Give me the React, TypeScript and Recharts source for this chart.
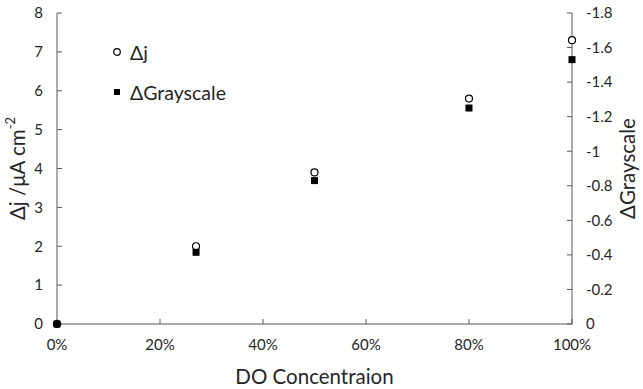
import React from "react";
import {
  ScatterChart,
  Scatter,
  XAxis,
  YAxis,
} from "recharts";

// DO concentration (fraction) for each measurement
const concentration = [0, 0.27, 0.5, 0.8, 1.0];
// current change, µA cm^-2
const deltaJ = [0, 2.0, 3.9, 5.8, 7.3];
// grayscale change (negative, plotted on reversed right axis)
const deltaGray = [0, -0.415, -0.83, -1.25, -1.53];

const xTicks = [0, 0.2, 0.4, 0.6, 0.8, 1.0];
const leftTicks = [0, 1, 2, 3, 4, 5, 6, 7, 8];
const rightTicks = [0, -0.2, -0.4, -0.6, -0.8, -1, -1.2, -1.4, -1.6, -1.8];

const jData = concentration.map((x, i) => ({ x, y: deltaJ[i] }));
const grayData = concentration.map((x, i) => ({ x, y: deltaGray[i] }));

const FONT = "Lato, 'Open Sans', sans-serif";
const AXIS = "#595959";
const TEXT = "#262626";
const TITLE_SIZE = 20.5;

const Square = (props: any) => {
  const { cx, cy } = props;
  return <rect x={cx - 3.5} y={cy - 3.5} width={7} height={7} fill="#000" />;
};

const Circle = (props: any) => {
  const { cx, cy } = props;
  return <circle cx={cx} cy={cy} r={3.5} fill="#fff" stroke="#000" strokeWidth={1.2} />;
};

// legend drawn as an overlay so it doesn't eat into the plot area
const LegendBox = () => (
  <div
    style={{
      position: "absolute",
      left: 112,
      top: 32,
      fontFamily: FONT,
      fontSize: 19.5,
      color: TEXT,
    }}
  >
    <div style={{ display: "flex", alignItems: "center", height: 40 }}>
      <svg width={12} height={12} style={{ marginRight: 6 }}>
        <circle cx={5} cy={6} r={3.3} fill="#fff" stroke="#000" strokeWidth={1.2} />
      </svg>
      Δj
    </div>
    <div style={{ display: "flex", alignItems: "center", height: 40 }}>
      <svg width={12} height={12} style={{ marginRight: 6 }}>
        <rect x={2} y={3} width={6} height={6} fill="#000" />
      </svg>
      ΔGrayscale
    </div>
  </div>
);

const LeftLabel = (props: any) => {
  const { viewBox } = props;
  const cx = 17;
  const cy = viewBox.y + viewBox.height / 2;
  return (
    <text
      x={cx}
      y={cy}
      transform={`rotate(-90 ${cx} ${cy})`}
      textAnchor="middle"
      dominantBaseline="central"
      fontFamily={FONT}
      fontSize={TITLE_SIZE}
      fill={TEXT}
    >
      Δj /μA cm
      <tspan dy={-7} fontSize={13}>-2</tspan>
    </text>
  );
};

const RightLabel = (props: any) => {
  const { viewBox } = props;
  const cx = 627;
  const cy = viewBox.y + viewBox.height / 2;
  return (
    <text
      x={cx}
      y={cy}
      transform={`rotate(-90 ${cx} ${cy})`}
      textAnchor="middle"
      dominantBaseline="central"
      fontFamily={FONT}
      fontSize={TITLE_SIZE}
      fill={TEXT}
    >
      ΔGrayscale
    </text>
  );
};

export default function App() {
  return (
    <div style={{ position: "relative", width: 643, height: 389, background: "#fff" }}>
      <style>{`body{margin:0}`}</style>
      <ScatterChart
        width={643}
        height={389}
        margin={{ top: 13, right: 0, bottom: 0, left: 0 }}
      >
        <XAxis
          type="number"
          dataKey="x"
          domain={[0, 1]}
          ticks={xTicks}
          tickFormatter={(v: number) => `${Math.round(v * 100)}%`}
          height={65}
          stroke={AXIS}
          tickSize={-5}
          tickMargin={20}
          tick={{ fill: TEXT, fontFamily: FONT, fontSize: 15 }}
          label={{
            value: "DO Concentraion",
            position: "insideBottom",
            offset: 5,
            fill: TEXT,
            fontFamily: FONT,
            fontSize: TITLE_SIZE,
          }}
        />
        <YAxis
          yAxisId="left"
          type="number"
          dataKey="y"
          domain={[0, 8]}
          ticks={leftTicks}
          width={57}
          stroke={AXIS}
          tickSize={-5}
          tickMargin={19}
          tick={{ fill: TEXT, fontFamily: FONT, fontSize: 15 }}
          label={<LeftLabel />}
        />
        <YAxis
          yAxisId="right"
          orientation="right"
          type="number"
          dataKey="y"
          domain={[-1.8, 0]}
          reversed
          ticks={rightTicks}
          width={71}
          stroke={AXIS}
          tickSize={-5}
          tickMargin={19}
          tick={{ fill: TEXT, fontFamily: FONT, fontSize: 15 }}
          label={<RightLabel />}
        />
        <Scatter
          yAxisId="left"
          name="Δj"
          data={jData}
          shape={<Circle />}
          isAnimationActive={false}
        />
        <Scatter
          yAxisId="right"
          name="ΔGrayscale"
          data={grayData}
          shape={<Square />}
          isAnimationActive={false}
        />
      </ScatterChart>
      <LegendBox />
    </div>
  );
}
